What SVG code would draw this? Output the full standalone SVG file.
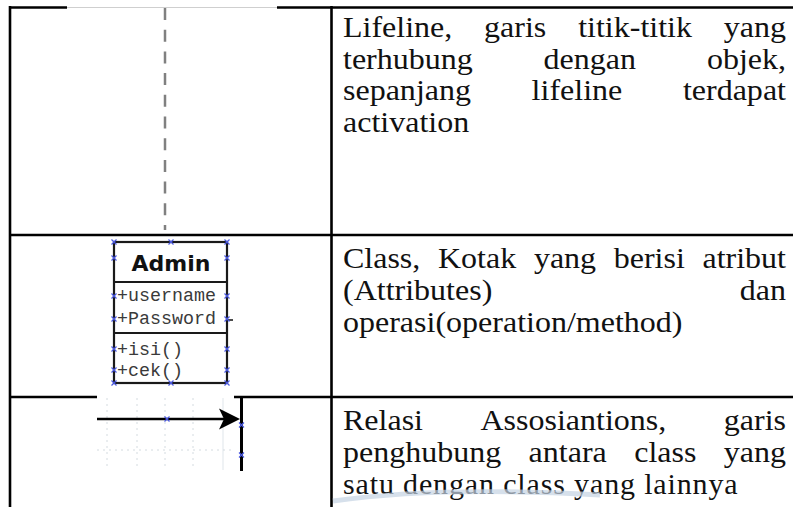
<svg xmlns="http://www.w3.org/2000/svg" width="793" height="507" viewBox="0 0 793 507">
  <style>
    .rule { stroke: #000; stroke-width: 2.6; fill: none; }
    .lifeline { stroke: #808080; stroke-width: 2.5; stroke-dasharray: 12 9.7; fill: none; }
    .box { fill: #fff; stroke: #1a1a1a; stroke-width: 2.2; }
    .sep { stroke: #1a1a1a; stroke-width: 2.2; }
    .grid { stroke: #d4dbe0; stroke-width: 1; stroke-dasharray: 2 4; fill: none; }
    .xmark { stroke: #4a58e0; stroke-width: 1.2; fill: none; }
    .assoc { stroke: #000; stroke-width: 2.6; fill: none; }
  </style>
  <defs>
    <path id="xm" d="M-2.5,-2.5 L2.5,2.5 M-2.5,2.5 L2.5,-2.5" class="xmark"/>
  </defs>
  <rect x="0" y="0" width="793" height="507" fill="#fff"/>

  <g id="table">
    <line x1="9" y1="7.5" x2="67" y2="7.5" class="rule"/>
    <line x1="67" y1="7.5" x2="277" y2="7.5" stroke="#cfcfcf" stroke-width="1"/>
    <line x1="277" y1="7.5" x2="793" y2="7.5" class="rule"/>
    <line x1="10" y1="6" x2="10" y2="507" class="rule"/>
    <line x1="331.5" y1="6" x2="331.5" y2="507" class="rule"/>
    <line x1="9" y1="235" x2="793" y2="235" class="rule"/>
    <line x1="9" y1="397" x2="97" y2="397" class="rule"/>
    <line x1="234" y1="397" x2="793" y2="397" class="rule"/>
  </g>

  <g id="row-lifeline" fill="#111">
    <line x1="165" y1="8" x2="165" y2="230" class="lifeline"/>
    <text font-family="Liberation Serif" font-size="30" x="343" y="37" textLength="109.3" lengthAdjust="spacingAndGlyphs">Lifeline,</text>
    <text font-family="Liberation Serif" font-size="30" x="484.1" y="37" textLength="62.2" lengthAdjust="spacingAndGlyphs">garis</text>
    <text font-family="Liberation Serif" font-size="30" x="578.2" y="37" textLength="113.8" lengthAdjust="spacingAndGlyphs">titik-titik</text>
    <text font-family="Liberation Serif" font-size="30" x="723.8" y="37" textLength="62.2" lengthAdjust="spacingAndGlyphs">yang</text>
    <text font-family="Liberation Serif" font-size="30" x="343" y="68.5" textLength="129.8" lengthAdjust="spacingAndGlyphs">terhubung</text>
    <text font-family="Liberation Serif" font-size="30" x="543.6" y="68.5" textLength="92.4" lengthAdjust="spacingAndGlyphs">dengan</text>
    <text font-family="Liberation Serif" font-size="30" x="706.9" y="68.5" textLength="79.1" lengthAdjust="spacingAndGlyphs">objek,</text>
    <text font-family="Liberation Serif" font-size="30" x="343" y="100" textLength="128" lengthAdjust="spacingAndGlyphs">sepanjang</text>
    <text font-family="Liberation Serif" font-size="30" x="531.6" y="100" textLength="90.7" lengthAdjust="spacingAndGlyphs">lifeline</text>
    <text font-family="Liberation Serif" font-size="30" x="682.9" y="100" textLength="103.1" lengthAdjust="spacingAndGlyphs">terdapat</text>
    <text font-family="Liberation Serif" font-size="30" x="343" y="131.5" textLength="126.2" lengthAdjust="spacingAndGlyphs">activation</text>
  </g>

  <g id="class-admin">
    <rect x="114" y="242" width="113" height="141" class="box"/>
    <line x1="114" y1="282" x2="227" y2="282" class="sep"/>
    <line x1="114" y1="333" x2="227" y2="333" class="sep"/>
    <text font-family="DejaVu Sans" font-weight="bold" font-size="22" fill="#111" x="171" y="271" text-anchor="middle">Admin</text>
    <g font-family="Liberation Mono" font-size="18" fill="#3a3a3a">
      <text x="117" y="301" textLength="99" lengthAdjust="spacingAndGlyphs">+username</text>
      <text x="117" y="324" textLength="99" lengthAdjust="spacingAndGlyphs">+Password</text>
      <text x="117" y="355" textLength="66" lengthAdjust="spacingAndGlyphs">+isi()</text>
      <text x="117" y="376" textLength="66" lengthAdjust="spacingAndGlyphs">+cek()</text>
    </g>
    <line x1="227" y1="320" x2="233" y2="320" stroke="#111" stroke-width="1.5"/>
    <use href="#xm" x="114" y="242"/><use href="#xm" x="171" y="242"/><use href="#xm" x="227" y="242"/>
    <use href="#xm" x="114" y="258"/><use href="#xm" x="227" y="258"/>
    <use href="#xm" x="114" y="296"/><use href="#xm" x="227" y="296"/>
    <use href="#xm" x="114" y="319"/><use href="#xm" x="227" y="319"/>
    <use href="#xm" x="114" y="349"/><use href="#xm" x="227" y="349"/>
    <use href="#xm" x="114" y="370"/><use href="#xm" x="227" y="370"/>
    <use href="#xm" x="114" y="383"/><use href="#xm" x="171" y="383"/><use href="#xm" x="227" y="383"/>
  </g>

  <g id="row-class-text" fill="#111">
    <text font-family="Liberation Serif" font-size="30" x="343" y="268" textLength="77.3" lengthAdjust="spacingAndGlyphs">Class,</text>
    <text font-family="Liberation Serif" font-size="30" x="438" y="268" textLength="78.2" lengthAdjust="spacingAndGlyphs">Kotak</text>
    <text font-family="Liberation Serif" font-size="30" x="533.9" y="268" textLength="62.2" lengthAdjust="spacingAndGlyphs">yang</text>
    <text font-family="Liberation Serif" font-size="30" x="613.7" y="268" textLength="71.1" lengthAdjust="spacingAndGlyphs">berisi</text>
    <text font-family="Liberation Serif" font-size="30" x="702.5" y="268" textLength="83.5" lengthAdjust="spacingAndGlyphs">atribut</text>
    <text font-family="Liberation Serif" font-size="30" x="343" y="300" textLength="149.3" lengthAdjust="spacingAndGlyphs">(Attributes)</text>
    <text font-family="Liberation Serif" font-size="30" x="739.8" y="300" textLength="46.2" lengthAdjust="spacingAndGlyphs">dan</text>
    <text font-family="Liberation Serif" font-size="30" x="343" y="332" textLength="339.5" lengthAdjust="spacingAndGlyphs">operasi(operation/method)</text>
  </g>

  <g id="row-association" fill="#111">
    <line x1="107" y1="398" x2="107" y2="470" class="grid"/>
    <line x1="137" y1="398" x2="137" y2="470" class="grid"/>
    <line x1="165" y1="398" x2="165" y2="470" class="grid"/>
    <line x1="193" y1="398" x2="193" y2="470" class="grid"/>
    <line x1="223" y1="398" x2="223" y2="470" stroke="#dfe5ea" stroke-width="1"/>
    <line x1="97" y1="450" x2="232" y2="450" class="grid"/>
    <line x1="241.5" y1="397" x2="241.5" y2="471" stroke="#000" stroke-width="3"/>
    <use href="#xm" x="241.5" y="425"/><use href="#xm" x="241.5" y="455"/>
    <text font-family="Liberation Serif" font-size="30" x="343" y="430" textLength="80" lengthAdjust="spacingAndGlyphs">Relasi</text>
    <text font-family="Liberation Serif" font-size="30" x="480.5" y="430" textLength="185.8" lengthAdjust="spacingAndGlyphs">Assosiantions,</text>
    <text font-family="Liberation Serif" font-size="30" x="723.8" y="430" textLength="62.2" lengthAdjust="spacingAndGlyphs">garis</text>
    <text font-family="Liberation Serif" font-size="30" x="343" y="462" textLength="158.2" lengthAdjust="spacingAndGlyphs">penghubung</text>
    <text font-family="Liberation Serif" font-size="30" x="528.6" y="462" textLength="78.2" lengthAdjust="spacingAndGlyphs">antara</text>
    <text font-family="Liberation Serif" font-size="30" x="634.2" y="462" textLength="62.2" lengthAdjust="spacingAndGlyphs">class</text>
    <text font-family="Liberation Serif" font-size="30" x="723.8" y="462" textLength="62.2" lengthAdjust="spacingAndGlyphs">yang</text>
    <text font-family="Liberation Serif" font-size="30" x="343" y="494" textLength="394.6" lengthAdjust="spacing">satu dengan class yang lainnya</text>
  </g>

  <g id="connectors">
    <line x1="97" y1="419" x2="226" y2="419" class="assoc"/>
    <path d="M240,419 L219,408.5 L224,419 L219,429.5 Z" fill="#000"/>
    <use href="#xm" x="167" y="419"/>
  </g>

  <path d="M333,501 Q440,486 600,495" stroke="#c5d3e2" stroke-width="5" fill="none" opacity="0.7"/>
</svg>
